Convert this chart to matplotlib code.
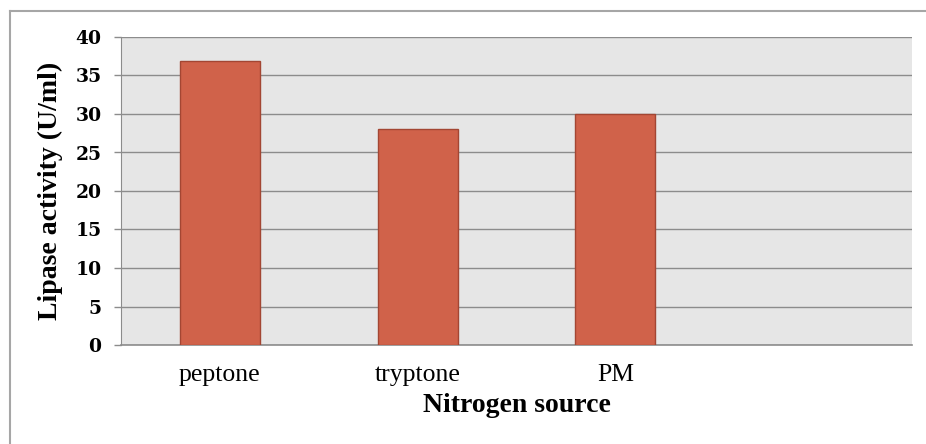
import numpy as np
import matplotlib
matplotlib.use("Agg")
import matplotlib.pyplot as plt
from matplotlib.lines import Line2D

# data
sources = ["peptone", "tryptone", "PM", ""]
activity = [36.9, 28.1, 30.0]
yticks = [0, 5, 10, 15, 20, 25, 30, 35, 40]

W, H = 926, 444
fig = plt.figure(figsize=(W / 100, H / 100), dpi=100)
fig.patch.set_facecolor("white")

# frame round the whole chart (right and bottom edges fall outside the image)
fx, fy = 9.5 / W, (H - 11) / H
fig.lines.append(Line2D([fx, 1.0], [fy, fy], transform=fig.transFigure,
                        color="#a6a6a6", lw=1.5))
fig.lines.append(Line2D([fx, fx], [0.0, fy], transform=fig.transFigure,
                        color="#a6a6a6", lw=1.5))

ax = fig.add_axes([121 / W, (H - 345) / H, (912 - 121) / W, (345 - 37) / H])
ax.set_facecolor("#e6e6e6")

xs = np.arange(len(sources))
ax.bar(xs[:len(activity)], activity, width=0.405, color="#d0624a",
       edgecolor="#a34633", lw=1.0, zorder=3)

ax.set_xlim(-0.5, len(sources) - 0.5)
ax.set_ylim(0, 40)
ax.set_yticks(yticks)
ax.set_xticks(xs)
ax.set_xticklabels(sources, family="Liberation Serif", fontsize=18.5)
for lab in ax.get_yticklabels():
    lab.set_family("DejaVu Serif")
    lab.set_fontweight("bold")
    lab.set_fontsize(13.5)

ax.yaxis.grid(True, color="#8c8c8c", lw=1.0, zorder=1)
ax.set_axisbelow(True)
for s in ["top", "right"]:
    ax.spines[s].set_visible(False)
ax.spines["left"].set_color("#8c8c8c")
ax.spines["bottom"].set_color("#8c8c8c")
ax.spines["bottom"].set_linewidth(1.2)
ax.tick_params(axis="y", length=5, width=1, color="#8c8c8c", pad=9)
ax.tick_params(axis="x", length=0, pad=14)

ax.set_ylabel("Lipase activity (U/ml)", family="Liberation Serif",
              fontweight="bold", fontsize=20)
ax.yaxis.set_label_coords(-0.073, 0.5)
ax.set_xlabel("Nitrogen source", family="Liberation Serif",
              fontweight="bold", fontsize=20)
ax.xaxis.set_label_coords(0.5, -0.155)

fig.savefig("out.png", dpi=100)
